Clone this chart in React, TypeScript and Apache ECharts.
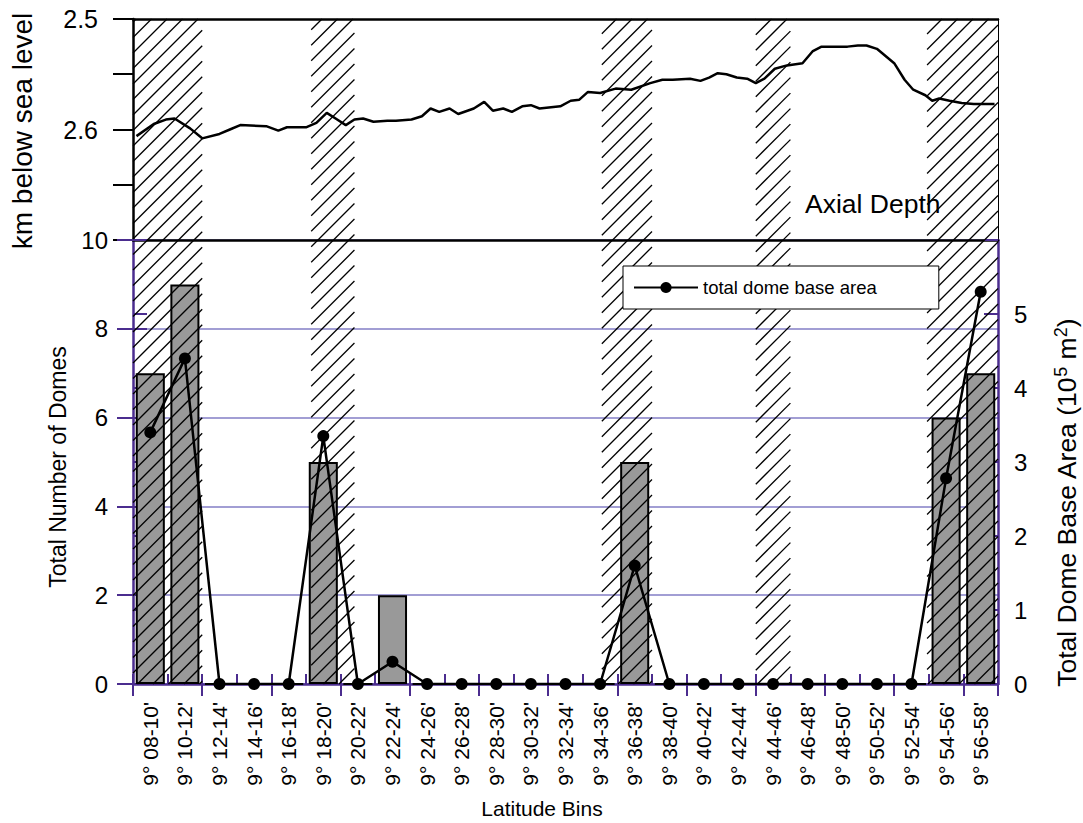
import React, { useEffect, useRef } from "react";
import * as echarts from "echarts";

const FONT = "'Liberation Sans', Arial, Helvetica, sans-serif";
const PURPLE = "#4b2d8f";
const GRID_PURPLE = "#a29ed4";

// Latitude bins (categories)
const latitudeBins = [
  "9° 08-10'", "9° 10-12'", "9° 12-14'", "9° 14-16'", "9° 16-18'",
  "9° 18-20'", "9° 20-22'", "9° 22-24'", "9° 24-26'", "9° 26-28'",
  "9° 28-30'", "9° 30-32'", "9° 32-34'", "9° 34-36'", "9° 36-38'",
  "9° 38-40'", "9° 40-42'", "9° 42-44'", "9° 44-46'", "9° 46-48'",
  "9° 48-50'", "9° 50-52'", "9° 52-54'", "9° 54-56'", "9° 56-58'",
];

// Total number of domes per bin (bars, left axis)
const domeCount = [7, 9, 0, 0, 0, 5, 0, 2, 0, 0, 0, 0, 0, 0, 5, 0, 0, 0, 0, 0, 0, 0, 0, 6, 7];

// Total dome base area per bin, 10^5 m^2 (line, right axis)
const domeArea = [3.4, 4.4, 0, 0, 0, 3.35, 0, 0.3, 0, 0, 0, 0, 0, 0, 1.6, 0, 0, 0, 0, 0, 0, 0, 0, 2.78, 5.3];

// Axial depth profile: latitude (minutes past 9°N) and depth (km below sea level)
const depthLat = [
  8.2, 9.2, 9.9, 10.4, 11.3, 12.0, 13.0, 13.6, 14.2, 15.7,
  16.4, 16.9, 18.0, 18.6, 19.2, 19.8, 20.3, 20.8, 21.3, 21.9,
  22.7, 23.2, 24.1, 24.7, 25.2, 25.7, 26.3, 26.8, 27.7, 28.3,
  28.8, 29.4, 29.9, 30.5, 31.0, 31.5, 32.7, 33.3, 33.8, 34.3,
  35.0, 35.9, 36.8, 37.9, 38.6, 39.2, 40.2, 40.8, 41.3, 41.8,
  42.3, 42.9, 43.5, 44.0, 44.5, 45.1, 45.8, 46.7, 47.3, 47.8,
  49.3, 49.9, 50.4, 51.0, 52.0, 52.6, 53.1, 53.8, 54.2, 54.6,
  55.2, 55.9, 56.6, 57.8,
];
const depthKm = [
  2.606, 2.595, 2.591, 2.590, 2.599, 2.608, 2.604, 2.600, 2.596, 2.597,
  2.601, 2.598, 2.598, 2.594, 2.585, 2.591, 2.596, 2.591, 2.590, 2.593,
  2.592, 2.592, 2.591, 2.588, 2.581, 2.584, 2.581, 2.586, 2.581, 2.575,
  2.583, 2.581, 2.584, 2.579, 2.578, 2.581, 2.579, 2.574, 2.573, 2.566,
  2.567, 2.563, 2.564, 2.558, 2.555, 2.555, 2.554, 2.556, 2.553, 2.549,
  2.550, 2.553, 2.554, 2.558, 2.554, 2.545, 2.542, 2.540, 2.529, 2.525,
  2.525, 2.524, 2.524, 2.527, 2.540, 2.555, 2.564, 2.569, 2.574, 2.572,
  2.574, 2.576, 2.577, 2.577,
];

// Hatched latitude bands (minutes past 9°N): start, end
const bandStart = [8, 18.3, 35.1, 44.0, 53.9];
const bandEnd = [12, 20.8, 38.0, 46.0, 58];

// Tick values
const depthTicks = { min: 2.5, max: 2.7, interval: 0.05 };
const countTicks = { min: 0, max: 10, interval: 2 };
const areaTicks = { min: 0, max: 6, interval: 1 };

export default function App() {
  const ref = useRef<HTMLDivElement>(null);

  useEffect(() => {
    if (!ref.current) return;
    const chart = echarts.init(ref.current, null, { renderer: "svg" });

    const depthData = depthLat.map((x, i) => [x, depthKm[i]]);
    const bandData = bandStart.map((s, i) => [s, bandEnd[i]]);

    const GRID_LEFT = 133;
    const GRID_W = 865;

    const option: any = {
      animation: false,
      backgroundColor: "#fff",
      textStyle: { fontFamily: FONT },
      grid: [
        { left: GRID_LEFT, top: 19, width: GRID_W, height: 221 },
        { left: GRID_LEFT, top: 240, width: GRID_W, height: 444 },
        { left: GRID_LEFT, top: 19, width: GRID_W, height: 665 },
      ],
      xAxis: [
        {
          gridIndex: 0, type: "value", min: 8, max: 58, position: "bottom",
          axisLine: { show: true, onZero: false, lineStyle: { color: "#000", width: 2.5 } },
          axisTick: { show: false }, axisLabel: { show: false }, splitLine: { show: false },
        },
        {
          gridIndex: 0, type: "value", min: 8, max: 58, position: "top",
          axisLine: { show: true, onZero: false, lineStyle: { color: "#000", width: 2.5 } },
          axisTick: { show: false }, axisLabel: { show: false }, splitLine: { show: false },
        },
        {
          gridIndex: 1, type: "category", data: latitudeBins, position: "bottom",
          boundaryGap: true,
          axisLine: { show: true, onZero: false, lineStyle: { color: PURPLE, width: 2.5 } },
          axisTick: { show: true, inside: true, length: 10, lineStyle: { color: PURPLE, width: 2 } },
          axisLabel: { show: true, rotate: 90, interval: 0, margin: 18, fontSize: 21, color: "#000", fontFamily: FONT },
          splitLine: { show: false },
        },
        {
          gridIndex: 1, type: "category", data: latitudeBins, position: "top",
          boundaryGap: true,
          axisLine: { show: false },
          axisTick: { show: true, inside: true, length: 12, lineStyle: { color: PURPLE, width: 2 } },
          axisLabel: { show: false }, splitLine: { show: false },
        },
        {
          gridIndex: 2, type: "value", min: 8, max: 58, show: false,
        },
      ],
      yAxis: [
        {
          gridIndex: 0, type: "value", inverse: true,
          min: depthTicks.min, max: depthTicks.max, interval: depthTicks.interval,
          position: "left",
          axisLine: { show: true, lineStyle: { color: "#000", width: 2.5 } },
          axisTick: { show: true, length: 20, lineStyle: { color: "#000", width: 2 } },
          axisLabel: {
            show: true, margin: 35, fontSize: 25, color: "#000", fontFamily: FONT,
            formatter: (v: number) => (Math.abs(v - 2.5) < 1e-6 ? "2.5" : Math.abs(v - 2.6) < 1e-6 ? "2.6" : ""),
          },
          splitLine: { show: false },
        },
        {
          gridIndex: 0, type: "value", min: 0, max: 1, position: "right",
          axisLine: { show: true, lineStyle: { color: "#000", width: 1 } },
          axisTick: { show: false }, axisLabel: { show: false }, splitLine: { show: false },
        },
        {
          gridIndex: 1, type: "value",
          min: countTicks.min, max: countTicks.max, interval: countTicks.interval,
          position: "left",
          axisLine: { show: true, lineStyle: { color: PURPLE, width: 2.5 } },
          axisTick: { show: true, length: 16, lineStyle: { color: PURPLE, width: 2 } },
          axisLabel: { show: true, margin: 25, fontSize: 24, color: "#000", fontFamily: FONT },
          splitLine: { show: true, lineStyle: { color: GRID_PURPLE, width: 2 } },
        },
        {
          gridIndex: 1, type: "value",
          min: countTicks.min, max: countTicks.max, interval: countTicks.interval,
          position: "left",
          axisLine: { show: false },
          axisTick: { show: true, inside: true, length: 14, lineStyle: { color: PURPLE, width: 2 } },
          axisLabel: { show: false }, splitLine: { show: false },
        },
        {
          gridIndex: 1, type: "value",
          min: areaTicks.min, max: areaTicks.max, interval: areaTicks.interval,
          position: "left",
          axisLine: { show: false },
          axisTick: { show: true, inside: true, length: 14, lineStyle: { color: PURPLE, width: 2 } },
          axisLabel: { show: false }, splitLine: { show: false },
        },
        {
          gridIndex: 1, type: "value",
          min: areaTicks.min, max: areaTicks.max, interval: areaTicks.interval,
          position: "right",
          axisLine: { show: true, lineStyle: { color: PURPLE, width: 2.5 } },
          axisTick: { show: true, inside: true, length: 14, lineStyle: { color: PURPLE, width: 2 } },
          axisLabel: {
            show: true, margin: 16, fontSize: 24, color: "#000", fontFamily: FONT,
            formatter: (v: number) => (v >= 6 ? "" : String(v)),
          },
          splitLine: { show: false },
        },
        {
          gridIndex: 2, type: "value", min: 0, max: 1, show: false,
        },
      ],
      legend: {
        data: ["total dome base area"],
        left: 623, top: 266,
        padding: [12, 62, 12, 10],
        itemWidth: 64, itemHeight: 14,
        borderColor: "#000", borderWidth: 1, backgroundColor: "#fff",
        selectedMode: false,
        textStyle: { fontSize: 18.5, color: "#000", fontFamily: FONT },
        z: 20,
      },
      series: [
        {
          name: "Total Number of Domes",
          type: "bar",
          xAxisIndex: 2, yAxisIndex: 2,
          data: domeCount,
          barWidth: "84%",
          itemStyle: { color: "#999999", borderColor: "#000", borderWidth: 2 },
          z: 2,
        },
        {
          name: "hatch",
          type: "custom",
          xAxisIndex: 4, yAxisIndex: 6,
          data: bandData,
          clip: false,
          silent: true,
          z: 3,
          renderItem: (params: any, api: any) => {
            const s = api.value(0);
            const e = api.value(1);
            const p0 = api.coord([s, 1]);
            const p1 = api.coord([e, 0]);
            const x0 = p0[0], y0 = p0[1], x1 = p1[0], y1 = p1[1];
            const step = 15.5;
            const children: any[] = [];
            const cStart = Math.ceil((x0 + y0) / step) * step;
            for (let c = cStart; c <= x1 + y1; c += step) {
              const xa = Math.max(x0, c - y1);
              const xb = Math.min(x1, c - y0);
              if (xb <= xa) continue;
              children.push({
                type: "line",
                shape: { x1: xa, y1: c - xa, x2: xb, y2: c - xb },
                style: { stroke: "#000", lineWidth: 1.3 },
              });
            }
            return { type: "group", children };
          },
        },
        {
          name: "Axial Depth",
          type: "line",
          xAxisIndex: 0, yAxisIndex: 0,
          data: depthData,
          showSymbol: false,
          symbol: "none",
          lineStyle: { color: "#000", width: 2.5 },
          z: 5,
        },
        {
          name: "total dome base area",
          type: "line",
          xAxisIndex: 2, yAxisIndex: 5,
          data: domeArea,
          symbol: "circle",
          symbolSize: 12,
          itemStyle: { color: "#000" },
          lineStyle: { color: "#000", width: 2.5 },
          z: 6,
        },
      ],
      graphic: [
        {
          type: "text", x: 22, y: 131, rotation: Math.PI / 2, z: 30,
          style: { text: "km below sea level", fontSize: 28, fontFamily: FONT, fill: "#000", align: "center", verticalAlign: "middle" },
        },
        {
          type: "text", x: 58, y: 467, rotation: Math.PI / 2, z: 30,
          style: { text: "Total Number of Domes", fontSize: 23, fontFamily: FONT, fill: "#000", align: "center", verticalAlign: "middle" },
        },
        {
          type: "text", x: 1067, y: 503, rotation: Math.PI / 2, z: 30,
          style: {
            text: "{a|Total Dome Base Area (10}{s|5}{a| m}{s|2}{a|)}",
            fontFamily: FONT, fill: "#000", align: "center", verticalAlign: "middle",
            rich: {
              a: { fontSize: 26.5, fontFamily: FONT, fill: "#000", lineHeight: 31, verticalAlign: "middle" },
              s: { fontSize: 18, fontFamily: FONT, fill: "#000", lineHeight: 18, verticalAlign: "top" },
            },
          },
        },
        {
          type: "text", x: 805, y: 204, z: 30,
          style: { text: "Axial Depth", fontSize: 26.5, fontFamily: FONT, fill: "#000", align: "left", verticalAlign: "middle" },
        },
        {
          type: "text", x: 542, y: 808, z: 30,
          style: { text: "Latitude Bins", fontSize: 21, fontFamily: FONT, fill: "#000", align: "center", verticalAlign: "middle" },
        },
      ],
    };

    chart.setOption(option);
    return () => chart.dispose();
  }, []);

  return (
    <div
      ref={ref}
      style={{ position: "absolute", left: 0, top: 0, width: 1083, height: 823, background: "#fff" }}
    />
  );
}
